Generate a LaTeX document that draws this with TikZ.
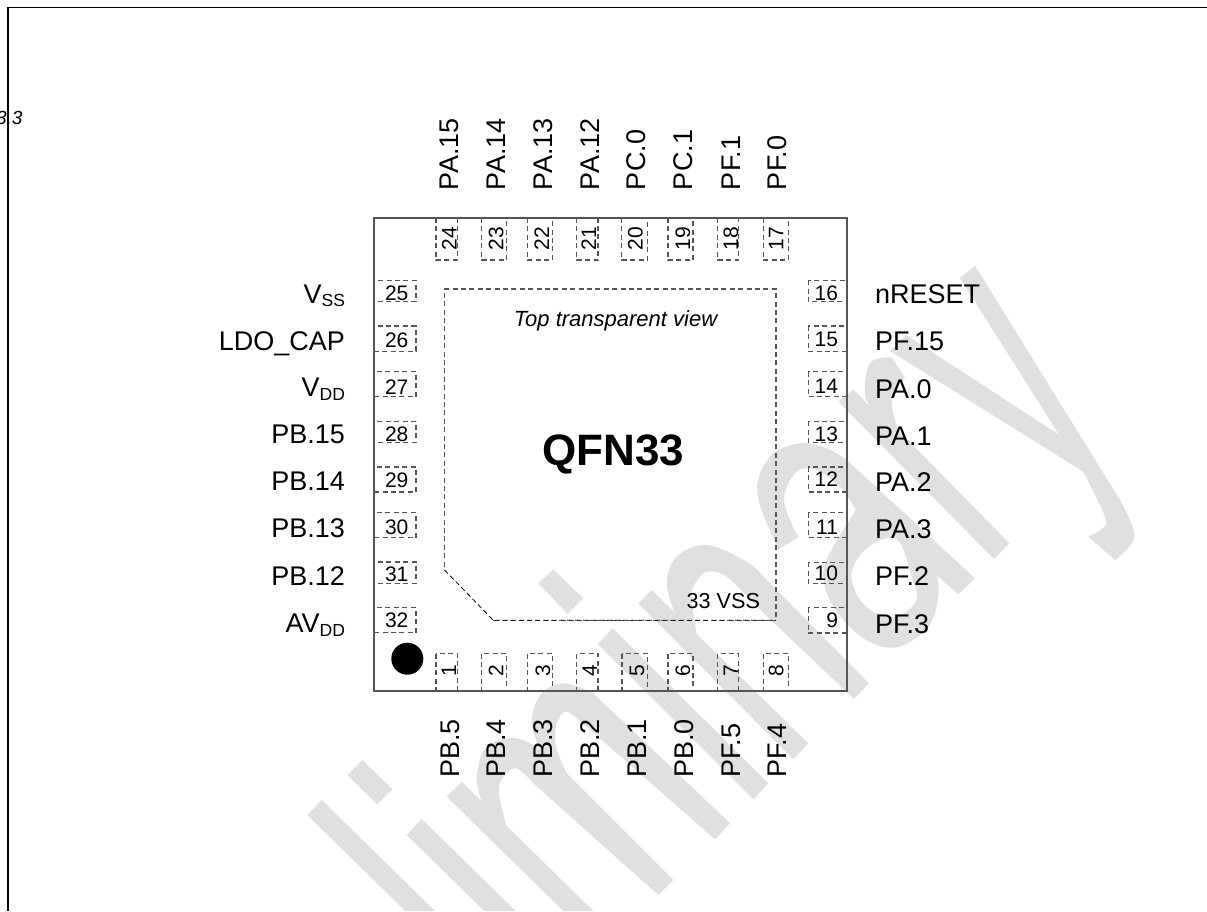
\documentclass[tikz,border=0pt]{standalone}
\usepackage{fontspec}
\setmainfont{Liberation Sans}
\tikzset{
  wm/.style={fill=wmgray,draw=none},
  chipline/.style={draw=chipgray,line width=1.3pt},
  dashbox/.style={draw=chipgray,line width=1.2pt,dash pattern=on 5pt off 3.4pt},
  thindash/.style={draw=black,line width=0.8pt,dash pattern=on 5pt off 3pt},
  txt/.style={inner sep=0pt,outer sep=0pt,text=black},
  pinnum/.style={txt,font=\fontsize{21}{24}\selectfont},
  pinlabel/.style={txt,font=\fontsize{27}{30}\selectfont}
}
\definecolor{wmgray}{HTML}{E0E0E0}
\definecolor{chipgray}{HTML}{555555}
\newcommand{\subtxt}[1]{\raisebox{-3.5pt}{\fontsize{17.5}{20}\selectfont #1}}
\begin{document}
\begin{tikzpicture}[x=1pt,y=-1pt]
\clip (0,0) rectangle (1207,911);
\fill[white] (0,0) rectangle (1207,911);
% ---- watermark ----
% l
\fill[wm] (321.7,800) -- (435,911) -- (405.3,911) -- (307.3,815) -- cycle;
% i
\fill[wm] (362.3,760) -- (392.3,789.3) -- (377.3,804.3) -- (347.3,775) -- cycle;
\fill[wm] (421.7,819) -- (515.7,911) -- (484.3,911) -- (406.7,835) -- cycle;
% m
\fill[wm] (461.7,781.7) -- (593.3,911) -- (563.3,911) -- (446.7,796.7) -- cycle;
\fill[wm] (481.7,801.7) -- plot[smooth,tension=.6] coordinates {(481.7,801.7) (476.7,776.7) (486.7,746.7) (516.7,738.3) (546.7,753.3)} -- (673.3,880) -- (658.3,895) -- plot[smooth,tension=.6] coordinates {(533.3,783.3) (516.7,768.3) (503.3,776.7) (499,793.3) (506.7,826.7)} -- cycle;
\fill[wm] (538.3,746.7) -- plot[smooth,tension=.6] coordinates {(538.3,746.7) (531.7,720) (541.7,693.3) (565,683.3) (593.3,693.3)} -- (730,823.3) -- (715,839.3) -- plot[smooth,tension=.6] coordinates {(586.7,726.7) (566.7,711.7) (556.7,723.3) (556,746.7) (566.7,773.3)} -- cycle;
% i
\fill[wm] (553.3,569.3) -- (583.3,598.3) -- (567.7,614) -- (538.3,583.3) -- cycle;
\fill[wm] (612.7,628.3) -- (768.3,783.3) -- (753.3,799.3) -- (597.7,644) -- cycle;
% n
\fill[wm] (651.7,590) -- (808.3,743.3) -- (793.3,759.3) -- (638.3,603.3) -- cycle;
\fill[wm] (675,613.3) -- plot[smooth,tension=.6] coordinates {(675,613.3) (666.7,583.3) (676.7,556.7) (706.7,545) (746.7,561.7) (766.7,580)} -- (869,683.3) -- (854,699) -- plot[smooth,tension=.6] coordinates {(750,600) (726.7,576.7) (706.7,571.7) (693.3,586.7) (691.7,600) (696.7,634)} -- cycle;
% a: stem and hook
\fill[wm] (778.3,549.3) -- plot[smooth,tension=.6] coordinates {(778.3,549.3) (757.3,493.3) (770,456.7) (800,443.3) (826.7,448.3) (846.7,460)} -- (975,578.3) -- (958.3,594.3) -- (896.7,539.3) -- (856,510) -- plot[smooth,tension=.6] coordinates {(856,510) (840,486.7) (816.7,470) (796.7,471.7) (784,500) (798.3,537.3)} -- cycle;
% a: bowl
\fill[wm,even odd rule] (936.7,574.3) -- plot[smooth,tension=.6] coordinates {(936.7,574.3) (938.3,596.7) (928.3,626.7) (896.7,647.3) (863.3,638.3) (833.3,606.7) (823.3,573.3) (833.3,546.7) (856,510)} -- (900,520) -- cycle
  plot[smooth cycle,tension=.6] coordinates {(896.7,539.3) (866.7,548.3) (851.7,573.3) (860,600) (880,615) (900,615) (916.7,600) (912.7,580)};
% r
\fill[wm] (838.3,401.7) -- (853.3,389.3) -- (875,411.7) -- plot[smooth,tension=.6] coordinates {(875,411.7) (865,395) (870,363) (891.7,357.3)} -- (905,378) -- plot[smooth,tension=.6] coordinates {(905,378) (891.7,400) (898,430)} -- (1009.3,543.3) -- (994,559) -- cycle;
% y
\fill[wm] (975,265.7) -- (1120,500) -- plot[smooth,tension=.6] coordinates {(1120,500) (1134.3,536.7) (1115,560)} -- (1088,536.7) -- plot[smooth,tension=.6] coordinates {(1088,536.7) (1103,528) (1105,516.7) (1083.3,471.7)} -- (890,351) -- (906,335) -- (1059.3,435) -- (960,278) -- cycle;
% ---- frame ----
\coordinate (frameR) at (1207,7.5);
\coordinate (frameC) at (8,7.5);
\coordinate (frameB) at (8,911);
\draw[black,line width=1.6pt] (frameR) -- (frameC) -- (frameB);
\node[txt,anchor=base east,font=\itshape\fontsize{19}{21}\selectfont] (clipnote) at (22.5,124.5) {3.3};
% ---- chip ----
\draw[chipline] (374,218) rectangle (847,691);
\draw[dashbox] (493.3,620.3) -- (776,620.3) -- (776,289) -- (444.5,289) -- (444.5,570);
\draw[thindash] (444.5,570) -- (493.3,620.3) -- (776,620.3);
\node[txt,anchor=base,font=\fontsize{44}{48}\selectfont\bfseries] (title) at (613.5,465) {QFN33};
\node[txt,anchor=base,font=\itshape\fontsize{22}{24}\selectfont] (viewnote) at (615.5,326) {Top transparent view};
\node[txt,anchor=base west,font=\fontsize{21.6}{24}\selectfont] (vss33) at (686.7,608.3) {33 VSS};
\node[circle,fill=black,draw=none,minimum size=32pt,inner sep=0pt] (dot) at (407.3,658.7) {};
% ---- top pins ----
\foreach \n/\a/\b/\t in {24/436/457.5/456.7,23/481.7/506.7/503.3,22/527.3/552.3/549,21/576.7/598/596,20/621.7/647.7/642.7,19/668/693/690,18/717.7/738.7/738,17/763.3/788.3/783.3}{
  \draw[dashbox] (\a,218) rectangle (\b,260);
  \node[pinnum,rotate=90,anchor=base west] (num\n) at (\t,250) {\n};
}
\foreach \n/\x/\l in {24/458/PA.15,23/505/PA.14,22/552/PA.13,21/599/PA.12,20/645/PC.0,19/692/PC.1,18/740/PF.1,17/786/PF.0}{
  \node[pinlabel,rotate=90,anchor=base west] (lab\n) at (\x,190) {\l};
}
% ---- bottom pins ----
\foreach \n/\a/\b/\t in {1/436/457.5/456,2/481.7/506.7/503.3,3/527.3/552.3/550,4/576.7/598/597,5/622/647.7/644,6/668/693/690,7/717.7/738.7/738,8/763.3/788.3/783.3}{
  \draw[dashbox] (\a,653.5) rectangle (\b,691);
  \node[pinnum,rotate=90,anchor=base west] (num\n) at (\t,676.7) {\n};
}
\foreach \n/\x/\l in {1/459/PB.5,2/505.5/PB.4,3/552/PB.3,4/599/PB.2,5/646/PB.1,6/693/PB.0,7/740/PF.5,8/786.5/PF.4}{
  \node[pinlabel,rotate=90,anchor=base west] (lab\n) at (\x,777.7) {\l};
}
% ---- left pins ----
\foreach \n/\a/\b/\t in {25/280.3/301.7/300,26/326/351.3/347.7,27/371.7/396.7/394.3,28/421.3/442.3/441,29/467/492/487,30/512.7/537.7/534,31/562/583.3/581.7,32/607.7/632.7/627.7}{
  \draw[dashbox] (374,\a) rectangle (416,\b);
  \node[pinnum,anchor=base west] (num\n) at (385,\t) {\n};
}
\node[pinlabel,anchor=base east] (lab25) at (345,303.3) {V\subtxt{SS}};
\node[pinlabel,anchor=base east] (lab26) at (345,350) {LDO\_CAP};
\node[pinlabel,anchor=base east] (lab27) at (345,396.7) {V\subtxt{DD}};
\node[pinlabel,anchor=base east] (lab28) at (345,443.3) {PB.15};
\node[pinlabel,anchor=base east] (lab29) at (345,490.7) {PB.14};
\node[pinlabel,anchor=base east] (lab30) at (345,537.7) {PB.13};
\node[pinlabel,anchor=base east] (lab31) at (345,585) {PB.12};
\node[pinlabel,anchor=base east] (lab32) at (345,632.7) {AV\subtxt{DD}};
% ---- right pins ----
\foreach \n/\a/\b/\t in {16/280.3/301.7/300,15/326/351.3/346.7,14/371.7/396.7/393,13/421.3/442.3/441,12/467/492/486.7,11/512.7/537.7/534,10/562.3/583.3/580.7,9/607.7/633/627.7}{
  \draw[dashbox] (808.3,\a) rectangle (847,\b);
  \node[pinnum,anchor=base east] (num\n) at (838,\t) {\n};
}
\foreach \n/\t/\l in {16/303/nRESET,15/350/PF.15,14/398/PA.0,13/445/PA.1,12/491.7/PA.2,11/538/PA.3,10/585/PF.2,9/633/PF.3}{
  \node[pinlabel,anchor=base west] (lab\n) at (875,\t) {\l};
}
\end{tikzpicture}
\end{document}
